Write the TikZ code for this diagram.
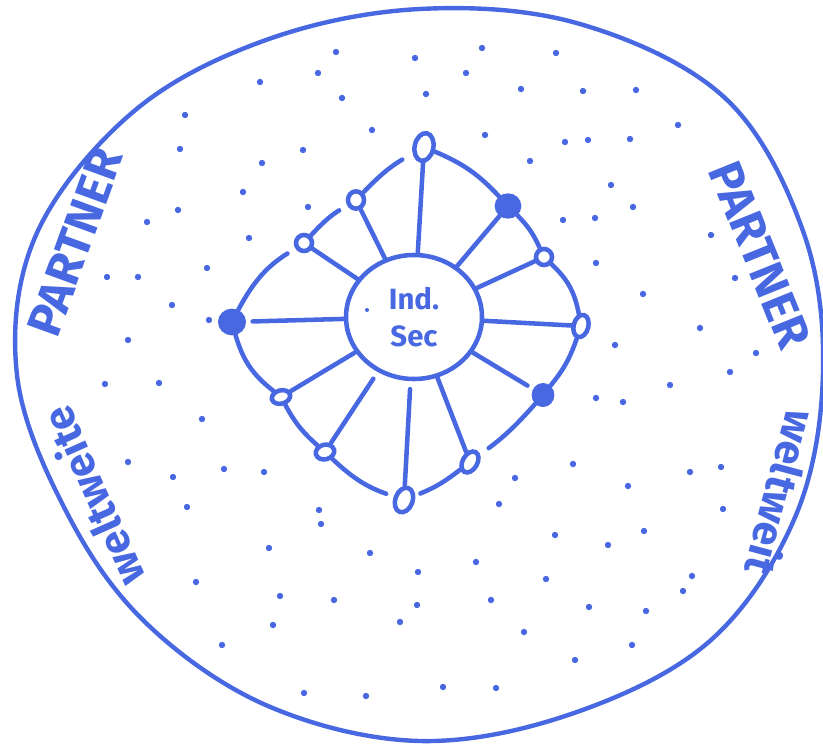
\documentclass[tikz,border=0pt]{standalone}
\usepackage{fontspec}
\setmainfont{Fira Sans}
\usetikzlibrary{shapes.geometric}
\definecolor{pen}{RGB}{72,104,226}
\begin{document}
\begin{tikzpicture}[x=0.75pt,y=-0.75pt,
  ink/.style={draw=pen, line width=3.4pt, line cap=round, line join=round},
  hub/.style={ellipse, draw=pen, line width=3.4pt, minimum width=102pt, minimum height=93pt, inner sep=0pt},
  onode/.style={ellipse, draw=pen, line width=3.4pt, fill=white, inner sep=0pt},
  fnode/.style={ellipse, draw=pen, line width=3pt, fill=pen, inner sep=0pt},
  dotc/.style={fill=pen},
  big/.style={text=pen, font=\bfseries\fontsize{36}{36}\selectfont, inner sep=0pt},
  mid/.style={text=pen, font=\bfseries\fontsize{32}{32}\selectfont, inner sep=0pt},
  ctext/.style={text=pen, font=\bfseries\fontsize{22}{24}\selectfont, align=center, inner sep=0pt},
]
\useasboundingbox (0,0) rectangle (823,745);

% outer boundary
\draw[ink, line width=3.3pt] plot[smooth cycle, tension=0.6] coordinates {(823,372) (803,231) (725,98) (580,24) (420,9) (266,40) (133,112) (36,235) (17,375) (67,513) (146,623) (268,706) (420,741) (574,713) (711,640) (796,515)};

% hub
\node[hub, ctext] (hub) at (414,317) {Ind.\\[4pt]Sec};

% ring nodes
\node[onode, minimum width=14pt, minimum height=21pt, rotate=-12] (n1) at (424,147) {};
\node[fnode, minimum width=17pt, minimum height=16pt] (n12) at (508,206) {};
\node[onode, minimum width=12pt, minimum height=12pt] (n11) at (544,257) {};
\node[onode, minimum width=11pt, minimum height=17pt, rotate=-15] (n10) at (581,326) {};
\node[fnode, minimum width=14pt, minimum height=15pt] (n9) at (543,395) {};
\node[onode, minimum width=11pt, minimum height=17pt, rotate=-30] (n8) at (470,462) {};
\node[onode, minimum width=13pt, minimum height=19pt, rotate=-20] (n7) at (404,500) {};
\node[onode, minimum width=14pt, minimum height=11pt, rotate=15] (n6) at (325,452) {};
\node[onode, minimum width=14pt, minimum height=10pt, rotate=15] (n5) at (281,397) {};
\node[fnode, minimum width=18pt, minimum height=17pt] (n4) at (232,322) {};
\node[onode, minimum width=12pt, minimum height=12pt] (n3) at (304,243) {};
\node[onode, minimum width=12pt, minimum height=13pt] (n2) at (356,200) {};

% ring
\draw[ink] (n1) to[bend left=12] (n12);
\draw[ink] (n12) to[bend left=10] (n11);
\draw[ink] (n11) to[bend left=18] (n10);
\draw[ink] (n10) to[bend left=10] (n9);
\draw[ink, shorten >=8pt] (n9) to[bend left=6] (n8);
\draw[ink, shorten >=4pt] (n8) to[bend left=8] (n7);
\draw[ink, shorten <=6pt] (n7) to[bend left=12] (n6);
\draw[ink] (n6) to[bend left=10] (n5);
\draw[ink] (n5) to[bend left=18] (n4);
\draw[ink, shorten >=7pt] (n4) to[bend left=15] (n3);
\draw[ink, shorten >=7pt] (n3) to[bend left=8] (n2);
\draw[ink, shorten >=9pt] (n2) to[bend left=8] (n1);

% spokes
\draw[ink] (hub) -- (n1);
\draw[ink] (hub) -- (n2);
\draw[ink] (hub) -- (n3);
\draw[ink, shorten >=5pt] (hub) -- (n4);
\draw[ink] (hub) -- (n5);
\draw[ink, shorten <=6pt] (hub) -- (n6);
\draw[ink, shorten <=6pt] (hub) -- (n7);
\draw[ink] (hub) -- (n8);
\draw[ink, shorten >=5pt] (hub) -- (n9);
\draw[ink] (hub) -- (n10);
\draw[ink] (hub) -- (n11);
\draw[ink] (hub) -- (n12);

% labels
\node[big, rotate=70] (pl) at (75,242) {PARTNER};
\node[big, rotate=-68] (pr) at (760,255) {PARTNER};
\node[mid, rotate=114] (wl) at (92,497) {weltweite};
\node[mid, rotate=-105] (wr) at (782,493) {weltweit};

% scattered dots
\foreach \p in {(336,52),(415,58),(318,73),(260,82),(342,98),(185,115),(372,130),(180,149),(303,150),(262,163),(243,192),(178,210),(147,222),(308,207),(249,238),(207,268),(107,277),(138,277),(172,305),(209,320),(128,340),
(482,48),(556,53),(466,73),(426,94),(521,89),(583,91),(636,90),(678,125),(485,135),(565,142),(588,140),(630,139),(530,161),(611,185),(633,207),(563,220),(595,218),(711,235),(596,263),(643,294),(735,278),(615,345),(700,328),(756,353),(730,372),
(105,384),(159,383),(202,419),(128,462),(173,477),(224,469),(264,472),(187,507),(319,510),(321,524),(269,548),(370,553),(196,582),(280,596),(334,600),(273,625),(400,622),(417,605),(222,645),(304,693),(366,696),
(670,385),(596,398),(623,402),(573,464),(690,472),(721,467),(628,486),(515,478),(499,504),(723,509),(555,535),(644,531),(608,545),(476,562),(418,572),(546,579),(692,576),(683,591),(491,600),(589,607),(646,611),(524,632),(632,645),(575,660),(443,687),(496,688)}
  \fill[dotc] \p circle (3.2);
\fill[dotc] (367,310) circle (2);
\end{tikzpicture}
\end{document}
